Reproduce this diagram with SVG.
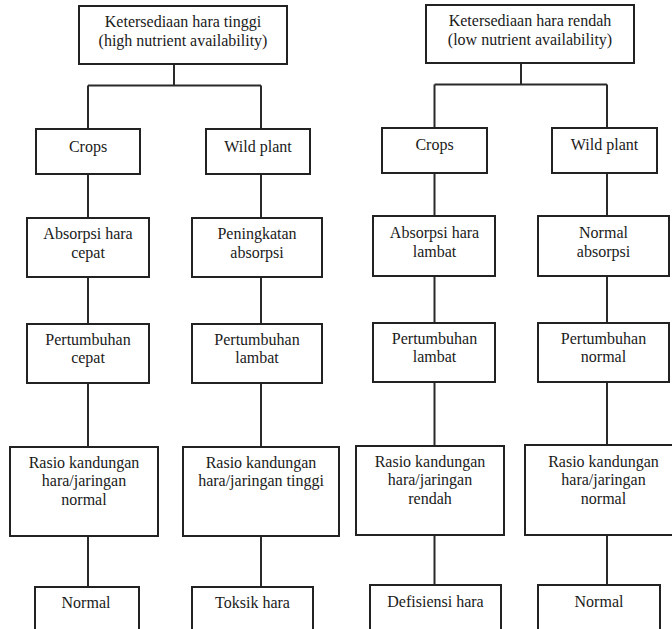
<svg xmlns="http://www.w3.org/2000/svg" width="672" height="629" viewBox="0 0 672 629">
  <style>
    .box { fill: #ffffff; stroke: #222222; stroke-width: 2; }
    .link { fill: none; stroke: #2a2a2a; stroke-width: 2; }
    .t { font-family: 'Liberation Serif', 'DejaVu Serif', serif; font-size: 16px; fill: #1a1a1a; text-anchor: middle; }
  </style>
  <rect width="672" height="629" fill="#ffffff"/>

  <!-- connectors -->
  <g id="connectors" class="link">
    <!-- high availability tree -->
    <path d="M174,64 V85.5 M88,85.5 H261 M88,85.5 V129 M261,85.5 V129"/>
    <path d="M88,174 V218 M88,277 V324 M88,383 V447 M88,536 V587"/>
    <path d="M261,174 V218 M261,277 V324 M261,383 V447 M261,536 V587"/>
    <!-- low availability tree -->
    <path d="M521,63 V84.5 M434.5,84.5 H607 M434.5,84.5 V128 M607,84.5 V128"/>
    <path d="M434.5,173 V216 M434.5,276 V323 M434.5,382 V446 M434.5,535 V585"/>
    <path d="M607,173 V216 M607,276 V323 M607,382 V445 M607,535 V585"/>
  </g>

  <g class="t">
  <!-- high nutrient availability -->
  <g id="high-root">
    <rect class="box" x="79" y="6" width="208" height="58"/>
    <text x="183" y="27">Ketersediaan hara tinggi</text>
    <text x="183" y="46">(high nutrient availability)</text>
  </g>
  <g id="high-crops">
    <rect class="box" x="36" y="129" width="104" height="45"/>
    <text x="88" y="152">Crops</text>
  </g>
  <g id="high-wild">
    <rect class="box" x="206" y="129" width="104" height="45"/>
    <text x="258" y="152">Wild plant</text>
  </g>
  <g id="high-crops-absorb">
    <rect class="box" x="27" y="218" width="122" height="59"/>
    <text x="88" y="239">Absorpsi hara</text>
    <text x="88" y="258">cepat</text>
  </g>
  <g id="high-wild-absorb">
    <rect class="box" x="192" y="218" width="130" height="59"/>
    <text x="257" y="239">Peningkatan</text>
    <text x="257" y="258">absorpsi</text>
  </g>
  <g id="high-crops-growth">
    <rect class="box" x="27" y="324" width="122" height="59"/>
    <text x="88" y="345">Pertumbuhan</text>
    <text x="88" y="363">cepat</text>
  </g>
  <g id="high-wild-growth">
    <rect class="box" x="192" y="324" width="130" height="59"/>
    <text x="257" y="345">Pertumbuhan</text>
    <text x="257" y="363">lambat</text>
  </g>
  <g id="high-crops-ratio">
    <rect class="box" x="10" y="447" width="148" height="89"/>
    <text x="84" y="468">Rasio kandungan</text>
    <text x="84" y="486">hara/jaringan</text>
    <text x="84" y="505">normal</text>
  </g>
  <g id="high-wild-ratio">
    <rect class="box" x="183" y="447" width="156" height="89"/>
    <text x="261" y="468">Rasio kandungan</text>
    <text x="261" y="486">hara/jaringan tinggi</text>
  </g>
  <g id="high-crops-result">
    <rect class="box" x="35" y="587" width="104" height="60"/>
    <text x="86" y="608">Normal</text>
  </g>
  <g id="high-wild-result">
    <rect class="box" x="192" y="587" width="121" height="60"/>
    <text x="252.5" y="608">Toksik hara</text>
  </g>

  <!-- low nutrient availability -->
  <g id="low-root">
    <rect class="box" x="426" y="5" width="208" height="58"/>
    <text x="530" y="26">Ketersediaan hara rendah</text>
    <text x="530" y="45">(low nutrient availability)</text>
  </g>
  <g id="low-crops">
    <rect class="box" x="382" y="128" width="105" height="45"/>
    <text x="434.5" y="150">Crops</text>
  </g>
  <g id="low-wild">
    <rect class="box" x="552" y="128" width="105" height="45"/>
    <text x="604.5" y="150">Wild plant</text>
  </g>
  <g id="low-crops-absorb">
    <rect class="box" x="373" y="216" width="122" height="60"/>
    <text x="434.5" y="238">Absorpsi hara</text>
    <text x="434.5" y="257">lambat</text>
  </g>
  <g id="low-wild-absorb">
    <rect class="box" x="538" y="216" width="131" height="60"/>
    <text x="603.5" y="238">Normal</text>
    <text x="603.5" y="257">absorpsi</text>
  </g>
  <g id="low-crops-growth">
    <rect class="box" x="373" y="323" width="122" height="59"/>
    <text x="434.5" y="344">Pertumbuhan</text>
    <text x="434.5" y="362">lambat</text>
  </g>
  <g id="low-wild-growth">
    <rect class="box" x="538" y="323" width="131" height="59"/>
    <text x="603.5" y="344">Pertumbuhan</text>
    <text x="603.5" y="362">normal</text>
  </g>
  <g id="low-crops-ratio">
    <rect class="box" x="356" y="446" width="148" height="89"/>
    <text x="430" y="467">Rasio kandungan</text>
    <text x="430" y="485">hara/jaringan</text>
    <text x="430" y="504">rendah</text>
  </g>
  <g id="low-wild-ratio">
    <rect class="box" x="525" y="445" width="157" height="90"/>
    <text x="603.5" y="467">Rasio kandungan</text>
    <text x="603.5" y="485">hara/jaringan</text>
    <text x="603.5" y="504">normal</text>
  </g>
  <g id="low-crops-result">
    <rect class="box" x="370" y="585" width="131" height="60"/>
    <text x="435.5" y="607">Defisiensi hara</text>
  </g>
  <g id="low-wild-result">
    <rect class="box" x="538" y="585" width="122" height="60"/>
    <text x="599" y="607">Normal</text>
  </g>
  </g>
</svg>
